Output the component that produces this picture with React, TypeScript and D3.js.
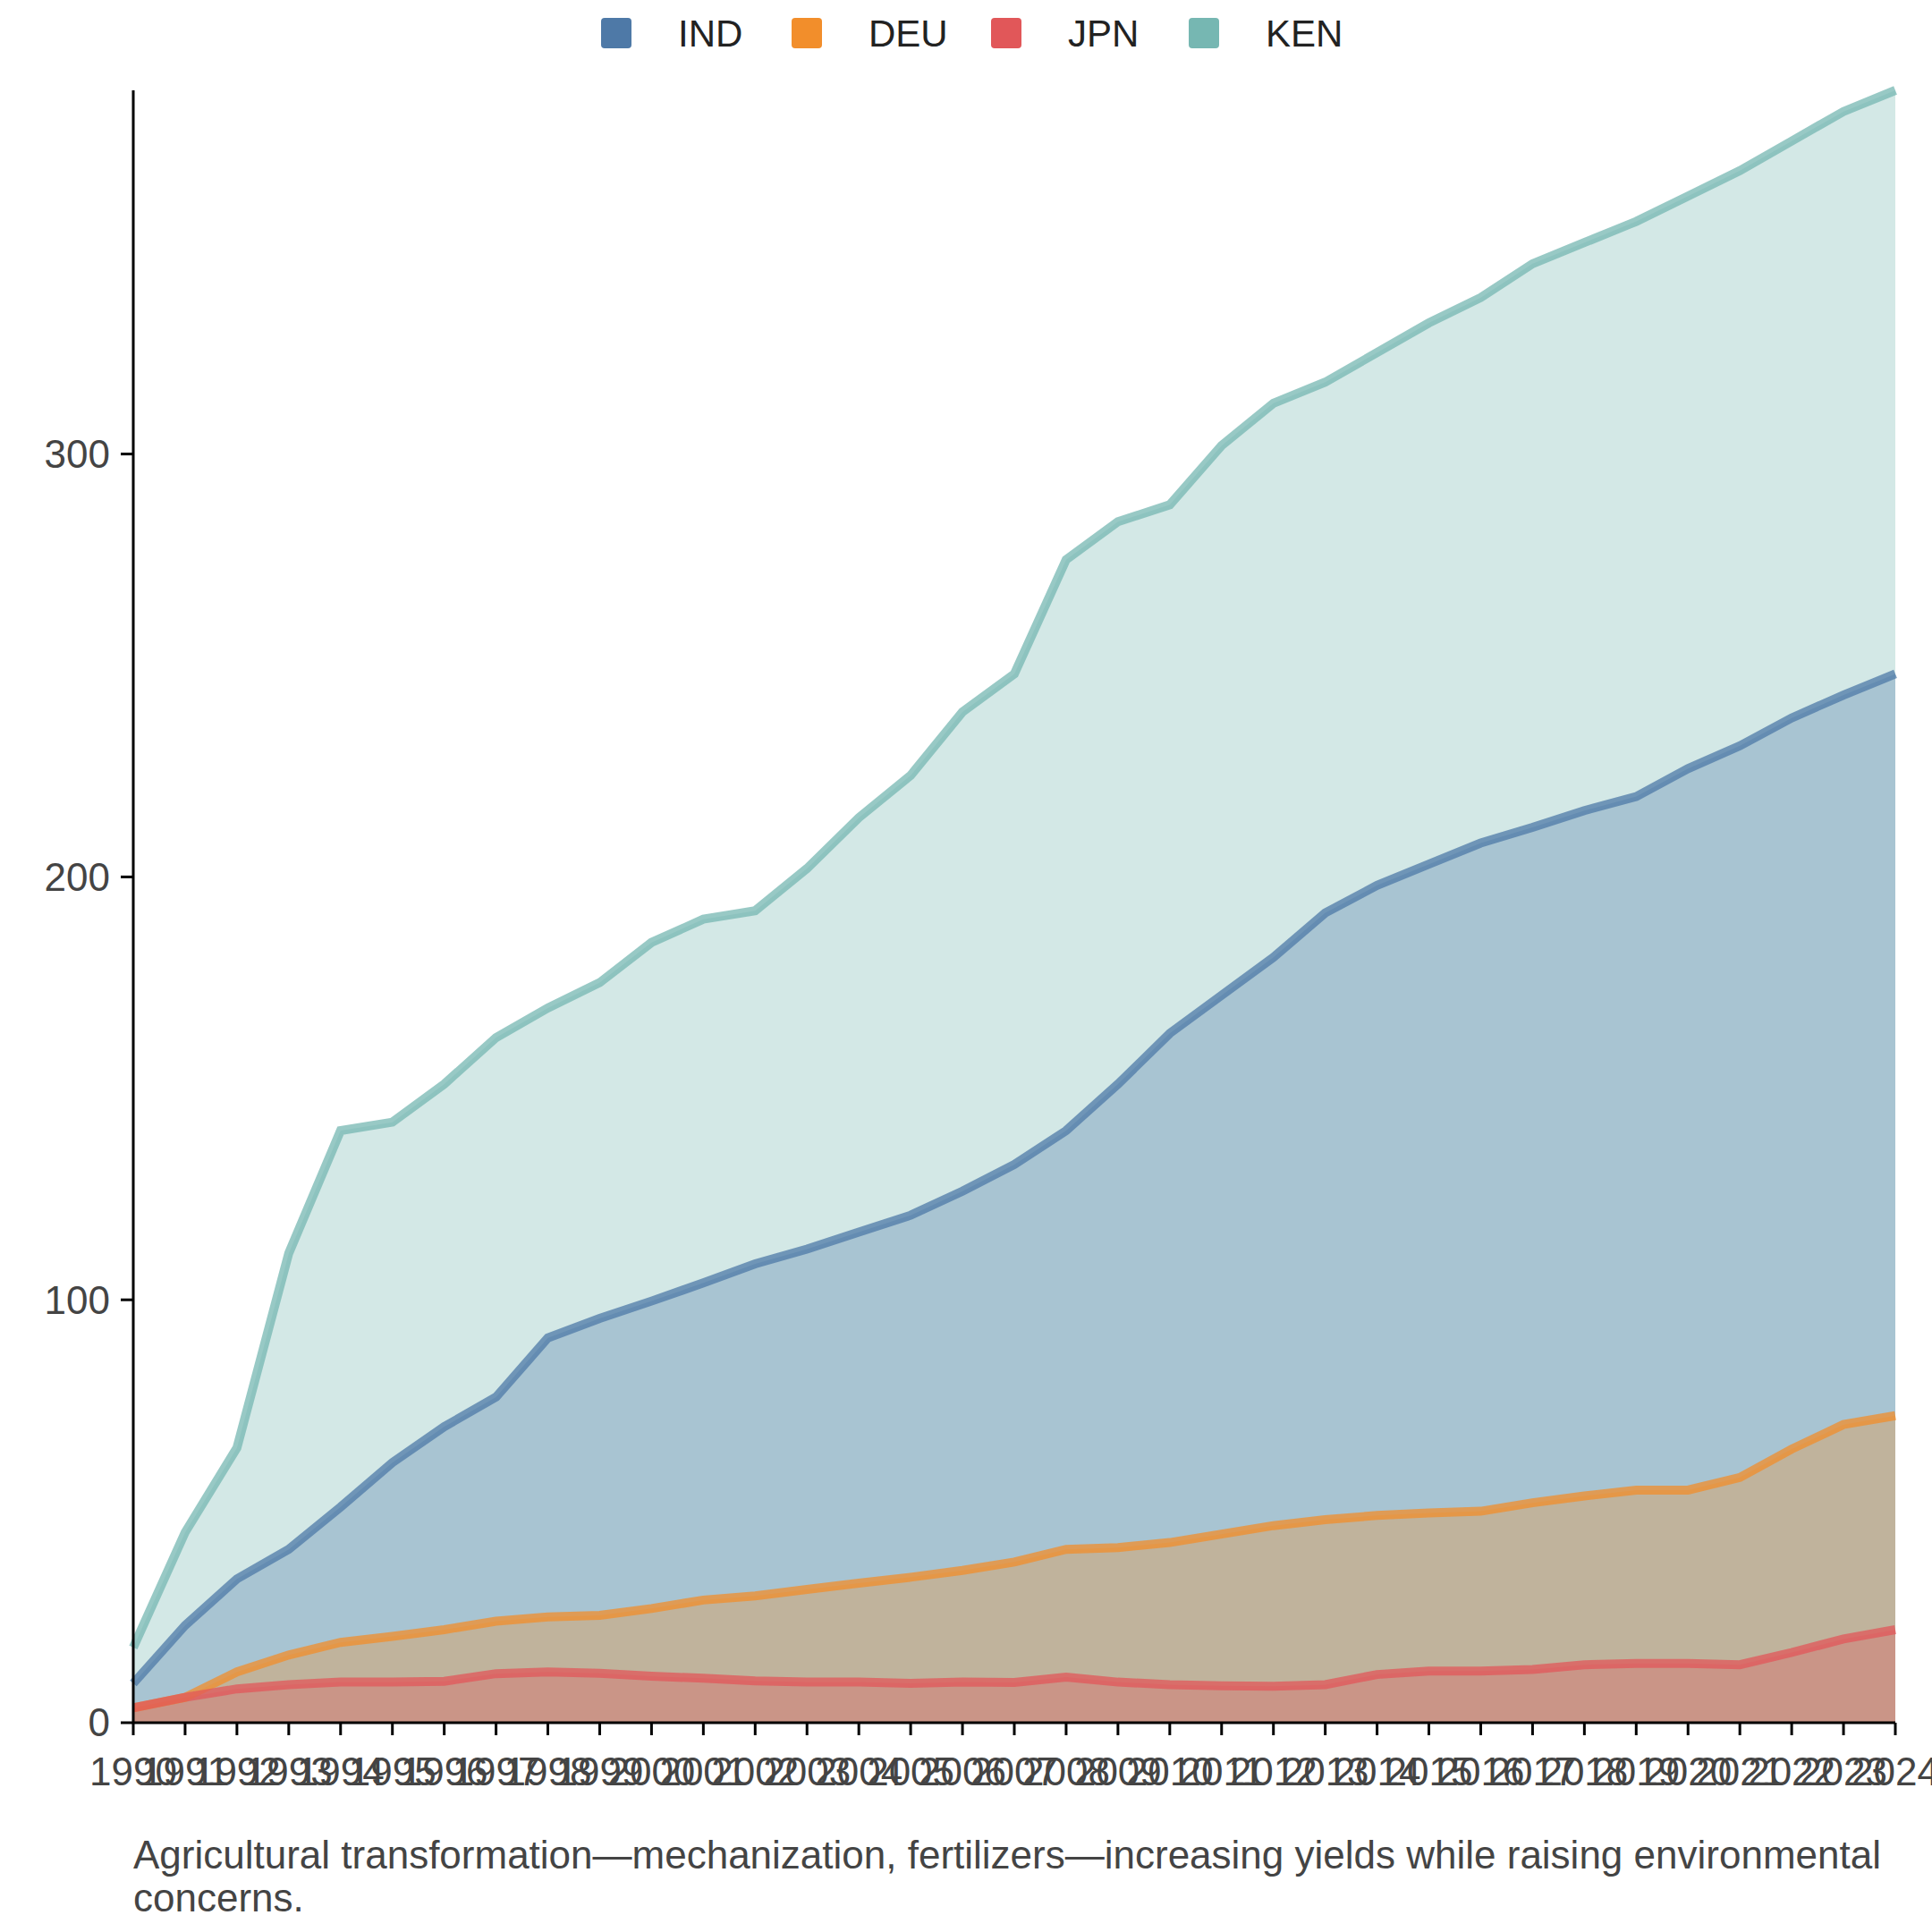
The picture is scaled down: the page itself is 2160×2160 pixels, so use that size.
import * as d3 from "d3";

const years = d3.range(1990, 2025);
const seriesNames = ["IND", "DEU", "JPN", "KEN"];
const colors = ["#4e79a7", "#f28e2b", "#e15759", "#76b7b2"];
const IND = [9.3, 23, 34, 41, 51, 61.5, 70, 77, 91, 95.6, 99.7, 104, 108.5, 112, 116, 120, 125.7, 132, 140, 151, 163, 172, 181, 191.5, 198, 203, 208, 211.7, 215.7, 219, 225.6, 231, 237.6, 243, 248];
const DEU = [3.5, 6, 12, 16, 19, 20.4, 22, 24, 25, 25.4, 27, 29, 30, 31.5, 33, 34.4, 36, 38, 41, 41.4, 42.6, 44.6, 46.6, 48, 49, 49.6, 50, 52, 53.6, 55, 55, 58, 64.7, 70.5, 72.6];
const JPN = [3.5, 6, 8, 9, 9.6, 9.6, 9.8, 11.6, 12, 11.7, 11, 10.5, 9.9, 9.6, 9.6, 9.3, 9.6, 9.5, 10.8, 9.6, 9, 8.7, 8.6, 9, 11.4, 12.2, 12.2, 12.6, 13.7, 14, 14, 13.7, 16.6, 19.8, 22];
const KEN = [17.8, 45, 65, 111, 140, 142, 151, 162, 169, 175, 184.5, 190, 192, 202, 214, 224, 239, 248, 275, 284, 288, 302, 312, 317, 324, 331, 337, 345, 350, 355, 361, 367, 374, 381, 386];
const yTicks = [0, 100, 200, 300];
const caption = ["Agricultural transformation—mechanization, fertilizers—increasing yields while raising environmental", "concerns."];

const W = 2160;
const m = { left: 149, right: 41, top: 101, bottom: 234 };

export default function App() {
  const x = d3.scaleLinear().domain([1990, 2024]).range([m.left, W - m.right]);
  const y = d3.scaleLinear().domain([0, 386]).range([W - m.bottom, m.top]);
  const data: Record<string, number[]> = { IND, DEU, JPN, KEN };
  const order = ["KEN", "IND", "DEU", "JPN"];
  const area = d3.area<number>().x((_, i) => x(years[i])).y0(y(0)).y1((d) => y(d));
  const line = d3.line<number>().x((_, i) => x(years[i])).y((d) => y(d));
  const font = "Liberation Sans, Arial, sans-serif";
  const legendX = [689, 902, 1125, 1346];
  return (
    <svg width={W} height={W} style={{ position: "absolute", left: 0, top: 0, background: "#fff" }} fontFamily={font}>
      {order.map((k) => (
        <path key={k + "a"} d={area(data[k])!} fill={colors[seriesNames.indexOf(k)]} fillOpacity={0.32} />
      ))}
      {order.map((k) => (
        <path key={k + "l"} d={line(data[k])!} fill="none" stroke={colors[seriesNames.indexOf(k)]} strokeWidth={10} strokeOpacity={0.75} />
      ))}
      <line x1={m.left} x2={m.left} y1={m.top} y2={y(0)} stroke="#000" strokeWidth={3} />
      <line x1={m.left} x2={W - m.right} y1={y(0)} y2={y(0)} stroke="#000" strokeWidth={3} />
      {yTicks.map((t) => (
        <g key={t}>
          <line x1={m.left - 14} x2={m.left} y1={y(t)} y2={y(t)} stroke="#000" strokeWidth={3} />
          <text x={m.left - 26} y={y(t)} dy="0.35em" textAnchor="end" fontSize={44} fill="#444">{t}</text>
        </g>
      ))}
      {years.map((yr) => (
        <g key={yr}>
          <line x1={x(yr)} x2={x(yr)} y1={y(0)} y2={y(0) + 14} stroke="#000" strokeWidth={3} />
          <text x={x(yr)} y={y(0) + 70} textAnchor="middle" fontSize={44} fill="#444">{yr}</text>
        </g>
      ))}
      {seriesNames.map((s, i) => (
        <g key={s}>
          <rect x={legendX[i] - 17} y={20} width={34} height={34} rx={4} fill={colors[i]} />
          <text x={legendX[i] + 69} y={37} dy="0.35em" fontSize={42} fill="#222">{s}</text>
        </g>
      ))}
      {caption.map((c, i) => (
        <text key={i} x={m.left} y={2089 + i * 48} fontSize={44} fill="#444">{c}</text>
      ))}
    </svg>
  );
}
